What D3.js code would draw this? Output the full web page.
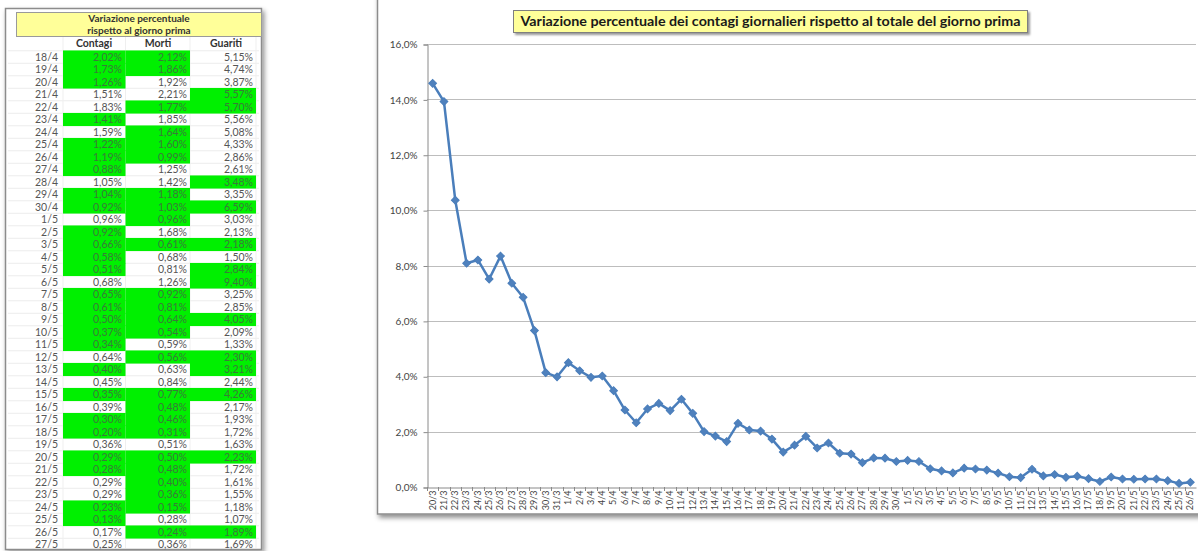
<!DOCTYPE html>
<html>
<head>
<meta charset="utf-8">
<script src="https://cdn.jsdelivr.net/npm/d3@7"></script>
<style>
  html, body { margin: 0; padding: 0; background: #fff; }
  svg { display: block; }
</style>
</head>
<body>
<div id="canvas"></div>
<script>
// ---- chart series: daily % change of cases vs. the previous day's total ----
var chartDates = [
  "20/3","21/3","22/3","23/3","24/3","25/3","26/3","27/3","28/3","29/3","30/3","31/3",
  "1/4","2/4","3/4","4/4","5/4","6/4","7/4","8/4","9/4","10/4","11/4","12/4","13/4","14/4","15/4",
  "16/4","17/4","18/4","19/4","20/4","21/4","22/4","23/4","24/4","25/4","26/4","27/4","28/4","29/4","30/4",
  "1/5","2/5","3/5","4/5","5/5","6/5","7/5","8/5","9/5","10/5","11/5","12/5","13/5","14/5","15/5",
  "16/5","17/5","18/5","19/5","20/5","21/5","22/5","23/5","24/5","25/5","26/5"
];
var chartValues = [
  14.58, 13.92, 10.36, 8.08, 8.20, 7.51, 8.34, 7.36, 6.85, 5.65, 4.13, 3.98,
  4.49, 4.20, 3.96, 4.01, 3.48, 2.78, 2.32, 2.82, 3.02, 2.76, 3.17, 2.66, 2.00, 1.84, 1.64,
  2.30, 2.06, 2.02, 1.73, 1.26, 1.51, 1.83, 1.41, 1.59, 1.22, 1.19, 0.88, 1.05, 1.04, 0.92,
  0.96, 0.92, 0.66, 0.58, 0.51, 0.68, 0.65, 0.61, 0.50, 0.37, 0.34, 0.64, 0.40, 0.45, 0.35,
  0.39, 0.30, 0.20, 0.36, 0.29, 0.28, 0.29, 0.29, 0.23, 0.13, 0.17
];
var yTicks = [0, 2, 4, 6, 8, 10, 12, 14, 16];
var chartTitle = "Variazione percentuale dei contagi giornalieri rispetto al totale del giorno prima";

// ---- side table ----
var tableTitle = ["Variazione percentuale", "rispetto al giorno prima"];
var tableColumns = ["Contagi", "Morti", "Guariti"];
var tableDates = [
  "18/4","19/4","20/4","21/4","22/4","23/4","24/4","25/4","26/4","27/4","28/4","29/4","30/4",
  "1/5","2/5","3/5","4/5","5/5","6/5","7/5","8/5","9/5","10/5","11/5","12/5","13/5","14/5",
  "15/5","16/5","17/5","18/5","19/5","20/5","21/5","22/5","23/5","24/5","25/5","26/5","27/5"
];
var contagiPct = [2.02,1.73,1.26,1.51,1.83,1.41,1.59,1.22,1.19,0.88,1.05,1.04,0.92,
  0.96,0.92,0.66,0.58,0.51,0.68,0.65,0.61,0.50,0.37,0.34,0.64,0.40,0.45,
  0.35,0.39,0.30,0.20,0.36,0.29,0.28,0.29,0.29,0.23,0.13,0.17,0.25];
var mortiPct = [2.12,1.86,1.92,2.21,1.77,1.85,1.64,1.60,0.99,1.25,1.42,1.18,1.03,
  0.96,1.68,0.61,0.68,0.81,1.26,0.92,0.81,0.64,0.54,0.59,0.56,0.63,0.84,
  0.77,0.48,0.46,0.31,0.51,0.50,0.48,0.40,0.36,0.15,0.28,0.24,0.36];
var guaritiPct = [5.15,4.74,3.87,5.57,5.70,5.56,5.08,4.33,2.86,2.61,3.48,3.35,6.59,
  3.03,2.13,2.18,1.50,2.84,9.40,3.25,2.85,4.05,2.09,1.33,2.30,3.21,2.44,
  4.26,2.17,1.93,1.72,1.63,2.23,1.72,1.61,1.55,1.18,1.07,1.89,1.69];
// first row highlight (previous day not in the table)
var firstRowGreen = [true, true, false];

var W = 1198, H = 551;
var fmtPct = function(v, d) { return v.toFixed(d).replace(".", ",") + "%"; };
var textFont = "Lato, 'Open Sans', sans-serif";

var svg = d3.select("#canvas").append("svg")
            .attr("width", W).attr("height", H)
            .attr("viewBox", "0 0 " + W + " " + H);

var defs = svg.append("defs");
var sh = defs.append("filter").attr("id", "shadow")
             .attr("x", "-5%").attr("y", "-5%").attr("width", "115%").attr("height", "115%");
sh.append("feDropShadow").attr("dx", 2).attr("dy", 3).attr("stdDeviation", 2.5)
  .attr("flood-color", "#000").attr("flood-opacity", 0.45);
var sh2 = defs.append("filter").attr("id", "shadowSmall")
              .attr("x", "-5%").attr("y", "-30%").attr("width", "115%").attr("height", "170%");
sh2.append("feDropShadow").attr("dx", 2).attr("dy", 2).attr("stdDeviation", 1.2)
   .attr("flood-color", "#000").attr("flood-opacity", 0.4);

svg.append("rect").attr("width", W).attr("height", H).attr("fill", "#fff");

// ================= TABLE =================
var tbl = svg.append("g");
var rowH = 12.5, row0 = 57;
var colEdges = [63, 125.5, 190, 256];
var colRight = [122, 187, 253];

tbl.append("rect")
   .attr("x", 5.5).attr("y", 8.5).attr("width", 256).attr("height", 541)
   .attr("fill", "#fff").attr("stroke", "#8c8c8c").attr("stroke-width", 1.5)
   .attr("filter", "url(#shadow)");

// faint excel grid
tableDates.forEach(function(d, i) {
  tbl.append("line")
     .attr("x1", 8).attr("x2", 259)
     .attr("y1", row0 - rowH / 2 + i * rowH).attr("y2", row0 - rowH / 2 + i * rowH)
     .attr("stroke", "#ececec").attr("stroke-width", 1);
});
colEdges.forEach(function(x) {
  tbl.append("line").attr("x1", x).attr("x2", x).attr("y1", 37).attr("y2", 548)
     .attr("stroke", "#efefef");
});

// header
tbl.append("rect")
   .attr("x", 16.5).attr("y", 12.5).attr("width", 245).attr("height", 24)
   .attr("fill", "#ffff99").attr("stroke", "#9a9a9a").attr("stroke-width", 1);
tableTitle.forEach(function(t, i) {
  tbl.append("text").text(t)
     .attr("x", 139).attr("y", 22 + i * 12)
     .attr("text-anchor", "middle")
     .attr("font-family", textFont).attr("font-weight", "bold")
     .attr("font-size", 10).attr("fill", "#333");
});
var headX = [94, 158, 226];
tableColumns.forEach(function(c, i) {
  tbl.append("text").text(c)
     .attr("x", headX[i]).attr("y", 47)
     .attr("text-anchor", "middle")
     .attr("font-family", textFont).attr("font-weight", "bold")
     .attr("font-size", 10.5).attr("fill", "#333");
});

var cols = [contagiPct, mortiPct, guaritiPct];
// green: cases/deaths going down, recoveries going up
var isGreen = function(c, i) {
  if (i === 0) return firstRowGreen[c];
  var v = cols[c][i], p = cols[c][i - 1];
  return c < 2 ? v < p : v > p;
};

cols.forEach(function(vals, c) {
  vals.forEach(function(v, i) {
    if (isGreen(c, i)) {
      tbl.append("rect")
         .attr("x", colEdges[c]).attr("y", row0 - rowH / 2 + i * rowH - 0.3)
         .attr("width", colEdges[c + 1] - colEdges[c]).attr("height", rowH + 0.6)
         .attr("fill", "#00f000");
    }
  });
});

tableDates.forEach(function(d, i) {
  var y = row0 + i * rowH + 3.8;
  tbl.append("text").text(d)
     .attr("x", 58).attr("y", y).attr("text-anchor", "end")
     .attr("font-family", textFont).attr("font-size", 10.5).attr("fill", "#555");
  cols.forEach(function(vals, c) {
    tbl.append("text").text(fmtPct(vals[i], 2))
       .attr("x", colRight[c]).attr("y", y).attr("text-anchor", "end")
       .attr("font-family", textFont).attr("font-size", 10.5)
       .attr("fill", isGreen(c, i) ? "#3a7a3a" : "#555");
  });
});

// ================= CHART =================
var chart = svg.append("g");
chart.append("rect")
     .attr("x", 377.5).attr("y", -10).attr("width", 840).attr("height", 524)
     .attr("fill", "#fff").attr("stroke", "#8c8c8c").attr("stroke-width", 1.5)
     .attr("filter", "url(#shadow)");

var x = d3.scaleBand().domain(chartDates).range([427, 1196]);
var y = d3.scaleLinear().domain([0, 16]).range([487, 44]);

// gridlines
chart.append("g").selectAll("line").data(yTicks.slice(1)).join("line")
     .attr("x1", 427).attr("x2", 1196)
     .attr("y1", function(d) { return Math.round(y(d)) + 0.5; })
     .attr("y2", function(d) { return Math.round(y(d)) + 0.5; })
     .attr("stroke", "#bdbdbd").attr("stroke-width", 1.2);

// y axis
var yAxis = chart.append("g").attr("transform", "translate(427.5,0.5)")
  .call(d3.axisLeft(y).tickValues(yTicks).tickSize(4).tickPadding(6)
          .tickFormat(function(d) { return fmtPct(d, 1); }));
yAxis.select(".domain").attr("stroke", "#8a8a8a");
yAxis.selectAll(".tick line").attr("stroke", "#8a8a8a");
yAxis.selectAll(".tick text").attr("font-family", textFont)
     .attr("font-size", 10).attr("fill", "#444");

// x axis
var xAxis = chart.append("g").attr("transform", "translate(0," + (Math.round(y(0)) + 0.5) + ")")
  .call(d3.axisBottom(x).tickSize(0).tickPadding(0));
xAxis.select(".domain").attr("stroke", "#8a8a8a");
xAxis.selectAll(".tick text")
     .attr("font-family", textFont).attr("font-size", 9).attr("fill", "#444")
     .attr("text-anchor", "end")
     .attr("dy", "0.32em")
     .attr("transform", "translate(0,3) rotate(-90)")
     .attr("y", 0).attr("x", 0);
// tick marks between categories
chart.append("g").selectAll("line").data(chartDates).join("line")
     .attr("x1", function(d) { return Math.round(x(d)) + 0.5; })
     .attr("x2", function(d) { return Math.round(x(d)) + 0.5; })
     .attr("y1", Math.round(y(0))).attr("y2", Math.round(y(0)) + 4)
     .attr("stroke", "#8a8a8a");

// series line
var cx = function(d, i) { return x(chartDates[i]) + x.bandwidth() / 2; };
var line = d3.line().x(cx).y(function(d) { return y(d); });
chart.append("path").datum(chartValues)
     .attr("d", line).attr("fill", "none")
     .attr("stroke", "#4a7ebb").attr("stroke-width", 2.5)
     .attr("stroke-linejoin", "round");

var marker = d3.symbol().type(d3.symbolSquare).size(30);
chart.append("g").selectAll("path").data(chartValues).join("path")
     .attr("d", marker)
     .attr("transform", function(d, i) {
       return "translate(" + cx(d, i) + "," + y(d) + ") rotate(45)";
     })
     .attr("fill", "#4f81bd").attr("stroke", "#4a7ebb").attr("stroke-width", 1);

// title box
var tg = chart.append("g");
tg.append("rect")
  .attr("x", 513.5).attr("y", 10.5).attr("width", 514).attr("height", 22)
  .attr("fill", "#ffff99").attr("stroke", "#7f7f7f").attr("stroke-width", 1)
  .attr("filter", "url(#shadowSmall)");
tg.append("text").text(chartTitle)
  .attr("x", 770.5).attr("y", 26)
  .attr("text-anchor", "middle")
  .attr("font-family", textFont).attr("font-weight", "bold")
  .attr("font-size", 13).attr("fill", "#1a1a1a")
  .attr("textLength", 500).attr("lengthAdjust", "spacingAndGlyphs");
</script>
</body>
</html>
